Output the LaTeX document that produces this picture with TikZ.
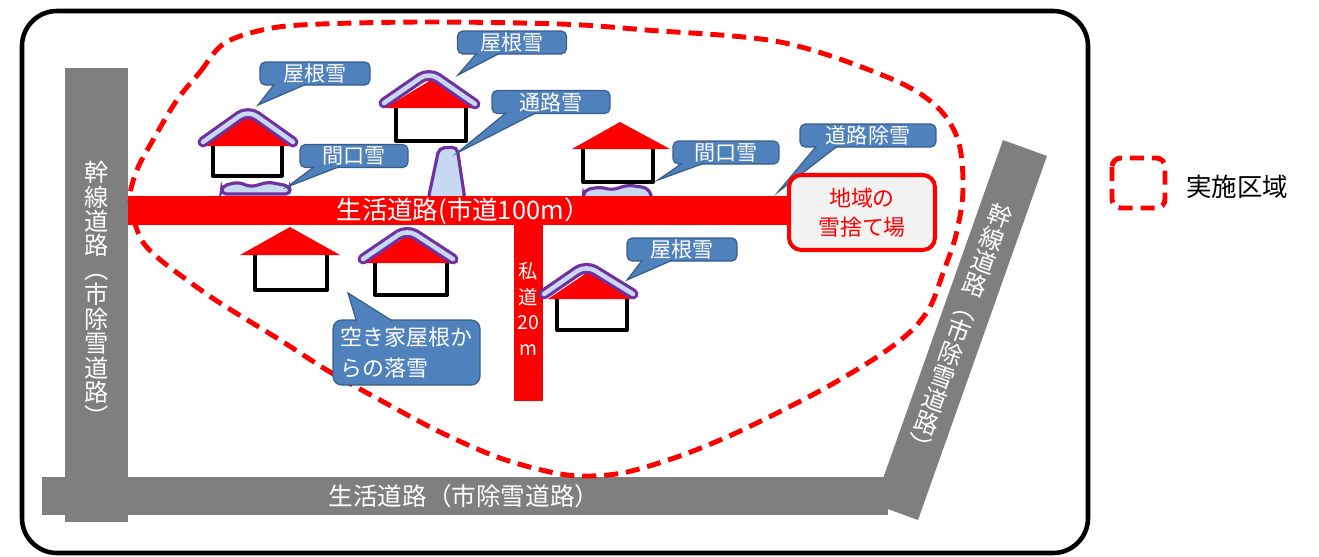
\documentclass[tikz,border=0pt]{standalone}
\usepackage{fontspec}
\usepackage{graphicx}
\setmainfont{Noto Sans CJK JP}
\usetikzlibrary{calc}

\definecolor{roadgray}{HTML}{7F7F7F}
\definecolor{callblue}{HTML}{4F81BD}
\definecolor{callline}{HTML}{385D8A}
\definecolor{snowblue}{HTML}{C6D9F1}
\definecolor{snowpurple}{HTML}{7030A0}
\definecolor{dumpgray}{HTML}{F2F2F2}

% vertical brackets for the stacked road names
\newcommand{\vopen}{\rotatebox[origin=c]{-90}{（}}
\newcommand{\vclose}{\rotatebox[origin=c]{-90}{）}}

\begin{document}
\begin{tikzpicture}[x=0.02cm, y=-0.02cm,
    road/.style={fill=roadgray},
    redroad/.style={fill=red},
    roadtext/.style={text=white, font=\fontsize{13.8}{13.9}\selectfont, align=center, inner sep=0pt},
    bubble/.style={draw=callline, fill=callblue, line width=0.7pt, rounded corners=3pt,
        text=white, font=\fontsize{12}{13}\selectfont, inner sep=0pt, minimum height=0.46cm},
    bubbletail/.style={draw=callline, fill=callblue, line width=0.7pt},
    wall/.style={draw=black, fill=white, line width=2.3pt, line join=round},
    roof/.style={fill=red},
    snowroof/.style={draw=snowblue, line width=2.6pt, line cap=round, line join=round, rounded corners=6pt,
        preaction={draw=snowpurple, line width=6.2pt, line cap=round, line join=round}},
    snowpile/.style={draw=snowpurple, fill=snowblue, line width=1.8pt, rounded corners=3pt},
    area/.style={draw=red, line width=2.8pt, dash pattern=on 8pt off 4.5pt}
  ]
\useasboundingbox (0,0) rectangle (1319,556);

% frame
\draw[line width=2.6pt, rounded corners=0.7cm] (22,11) rectangle (1088,553);

% ============================================================
% Trunk roads (grey)
% ============================================================
\fill[road] (65,68) rectangle (128,522);
\fill[road] (42,477) rectangle (888,515);
\fill[road] (1003,140) -- (1047,156) -- (918,520) -- (874,504) -- cycle;

\node[roadtext] (trunkW) at (97,295) {幹\\線\\道\\路\\\vopen\\市\\除\\雪\\道\\路\\\vclose};
\node[roadtext, rotate=-19.5] (trunkE) at (959,331) {幹\\線\\道\\路\\\vopen\\市\\除\\雪\\道\\路\\\vclose};
\node[roadtext, font=\fontsize{14}{15}\selectfont] (lifeS) at (464,496) {生活道路（市除雪道路）};

% snow piles sit under the red road
\filldraw[snowpile] (221,194) -- (222,186) -- (238,182) -- (251,187) -- (268,182) -- (289,186) -- (291,194) -- cycle;
\filldraw[snowpile] (428,200) -- (439,148) -- (457,147) -- (465,200) -- cycle;
\filldraw[snowpile] (583,200) -- (584,190) -- (600,187) -- (612,190) -- (628,185) -- (648,188) -- (653,200) -- cycle;

% ============================================================
% Local roads (red)
% ============================================================
\fill[redroad] (128,196) rectangle (790,225);
\fill[redroad] (514,225) rectangle (543,401);

\node[roadtext, font=\fontsize{14.5}{15}\selectfont] (lifeN) at (463,211) {生活道路(市道100m）};
\node[roadtext, font=\fontsize{11}{14.6}\selectfont] (lane) at (528,309) {私\\道\\20\\m};

% area boundary
\draw[area] plot[smooth cycle, tension=0.55] coordinates {
    (177,100) (200,72) (222,45) (254,32) (300,25) (420,22) (560,24) (646,30)
    (780,42) (887,77) (935,105) (958,140) (963,190) (956,235) (943,273) (930,307)
    (910,332) (877,357) (827,387) (777,413) (727,437) (677,457) (627,472) (590,476)
    (555,473) (500,458) (440,432) (380,400) (330,372) (280,340) (220,303) (187,280)
    (157,257) (140,237) (130,200) (137,170) (153,140)};

% ============================================================
% Houses
% ============================================================
% north side, left
\filldraw[wall] (213,145) -- (213,176) -- (282,176) -- (282,145);
\fill[roof] (204,146) -- (249,116) -- (296,146) -- cycle;
\draw[snowroof] (203,142) -- (248,110) -- (293,142);

% north side, middle
\filldraw[wall] (396,107) -- (396,141) -- (466,141) -- (466,107);
\fill[roof] (385,108) -- (431,80) -- (478,108) -- cycle;
\draw[snowroof] (384,103) -- (429,72) -- (475,104);

% north side, right (no roof snow)
\filldraw[wall] (583,148) -- (583,182) -- (653,182) -- (653,148);
\fill[roof] (572,149) -- (620,122) -- (670,149) -- cycle;

% south side, left (no roof snow)
\filldraw[wall] (255,254) -- (255,290) -- (327,290) -- (327,254);
\fill[roof] (240,255) -- (290,227) -- (340,255) -- cycle;

% south side, vacant house
\filldraw[wall] (375,262) -- (375,295) -- (447,295) -- (447,262);
\fill[roof] (365,263) -- (407,236) -- (458,263) -- cycle;
\draw[snowroof] (363,259) -- (407,229) -- (453,259);

% along the private road
\filldraw[wall] (557,298) -- (557,330) -- (627,330) -- (627,298);
\fill[roof] (548,299) -- (588,272) -- (634,299) -- cycle;
\draw[snowroof] (544,294) -- (586,265) -- (633,294);

% ============================================================
% Callouts
% ============================================================
\node[bubble, minimum width=2.2cm] (roofA) at (315,73.5) {屋根雪};
\coordinate (roofAtip) at (258,105);
\filldraw[bubbletail] ($(roofA.south west)+(15,-1.5)$) -- (roofAtip) -- ($(roofA.south west)+(47,-1.5)$);

\node[bubble, minimum width=2.18cm] (roofB) at (512,42.5) {屋根雪};
\coordinate (roofBtip) at (458,75);
\filldraw[bubbletail] ($(roofB.south west)+(20,-1.5)$) -- (roofBtip) -- ($(roofB.south west)+(43,-1.5)$);

\node[bubble, minimum width=2.36cm] (passage) at (551,102) {通路雪};
\coordinate (passagetip) at (457,153);
\filldraw[bubbletail] ($(passage.south west)+(15,-1.5)$) -- (passagetip) -- ($(passage.south west)+(45,-1.5)$);

\node[bubble, minimum width=2.16cm] (frontA) at (354,156) {間口雪};
\coordinate (frontAtip) at (287,187);
\filldraw[bubbletail] ($(frontA.south west)+(15,-1.5)$) -- (frontAtip) -- ($(frontA.south west)+(40,-1.5)$);

\node[bubble, minimum width=2.12cm] (frontC) at (726,152.5) {間口雪};
\coordinate (frontCtip) at (658,180);
\filldraw[bubbletail] ($(frontC.south west)+(10,-1.5)$) -- (frontCtip) -- ($(frontC.south west)+(32,-1.5)$);

\node[bubble, minimum width=2.72cm] (plough) at (868,135.5) {道路除雪};
\coordinate (ploughtip) at (778,192);
\filldraw[bubbletail] ($(plough.south west)+(17,-1.5)$) -- (ploughtip) -- ($(plough.south west)+(38,-1.5)$);

\node[bubble, minimum width=2.2cm] (roofF) at (682,249.5) {屋根雪};
\coordinate (roofFtip) at (627,280);
\filldraw[bubbletail] ($(roofF.south west)+(16,-1.5)$) -- (roofFtip) -- ($(roofF.south west)+(46,-1.5)$);

\node[bubble, minimum width=2.94cm, minimum height=1.3cm, rounded corners=5pt, align=left,
      font=\fontsize{12.5}{17.6}\selectfont] (vacant) at (406.5,352.5) {空き家屋根か\\らの落雪};
\coordinate (vacanttip) at (348,293);
\filldraw[bubbletail] ($(vacant.north west)+(24,1.5)$) -- (vacanttip) -- ($(vacant.north west)+(60,1.5)$);

% snow dump
\node[draw=red, fill=dumpgray, line width=2.3pt, rounded corners=7pt, minimum width=2.92cm,
      minimum height=1.5cm, text=red, align=center, font=\fontsize{12.5}{16.4}\selectfont] (dump) at (862,212.5) {地域の\\雪捨て場};

% legend
\draw[area, rounded corners=5pt] (1112,158) rectangle (1165,208);
\node[font=\fontsize{14.5}{16}\selectfont, anchor=west] (legend) at (1180,187) {実施区域};

\end{tikzpicture}
\end{document}
